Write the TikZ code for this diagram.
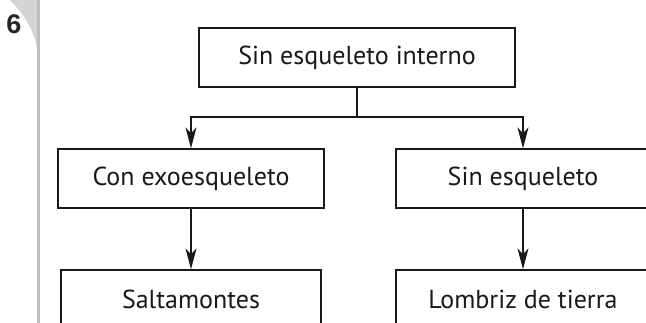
\documentclass[tikz,border=0pt]{standalone}
\usepackage{fontspec}
\setmainfont{PT Sans}
\newfontfamily\numfont{Liberation Sans}
\usetikzlibrary{arrows.meta}
\begin{document}
\begin{tikzpicture}[x=1pt,y=-1pt,
  box/.style={draw=black!90,line width=1.3pt,minimum height=59pt,inner sep=0pt,font=\fontsize{26}{31}\selectfont,text=black!90},
  conn/.style={draw=black!90,line width=1.3pt},
  arr/.style={conn,-{Stealth[length=21pt,width=11pt,inset=6pt]}}]
\useasboundingbox (0,0) rectangle (646,323);
\clip (0,0) rectangle (646,323);
\fill[white] (0,0) rectangle (646,323);
% side tab
\fill[black!17] (10,0) .. controls (24,14) and (37,34) .. (38,56) -- (38,0) -- cycle;
\draw[black!25,line width=2.5pt] (38.5,0) -- (38.5,323);
\node[font=\numfont\bfseries\fontsize{27}{32}\selectfont,text=black!85] (num) at (14,24) {6};
% boxes
\node[box,minimum width=316pt] (top) at (357,57.5) {Sin esqueleto interno};
\node[box,minimum width=266pt] (l1) at (191,178.5) {Con exoesqueleto};
\node[box,minimum width=254pt] (r1) at (523,178.5) {Sin esqueleto};
\node[box,minimum width=260pt] (l2) at (191,299.5) {Saltamontes};
\node[box,minimum width=254pt] (r2) at (523,299.5) {Lombriz de tierra};
% connectors
\coordinate (j) at (357,117);
\draw[conn] (top.south) -- (j);
\draw[arr] (j) -| (l1.north);
\draw[arr] (j) -| (r1.north);
\draw[arr] (l1.south) -- (l2.north);
\draw[arr] (r1.south) -- (r2.north);
\end{tikzpicture}
\end{document}
